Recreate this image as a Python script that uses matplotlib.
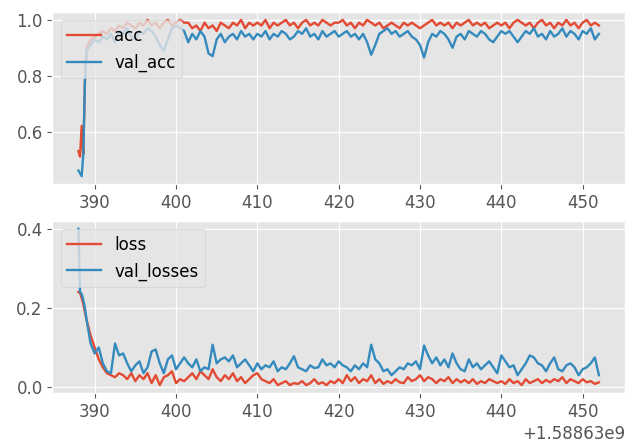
import matplotlib
matplotlib.use('Agg')
import matplotlib.pyplot as plt
import numpy as np

plt.style.use('ggplot')
plt.rcParams['xtick.labelsize'] = 12
plt.rcParams['ytick.labelsize'] = 12
plt.rcParams['legend.fontsize'] = 12

# epoch end times (seconds after 1588630000)
t_start = [388.0, 388.2, 388.4, 388.6, 388.8, 389.0]
t_rest = np.arange(389.5, 452.01, 0.5)
times = 1588630000 + np.concatenate([t_start, t_rest])

acc = [0.53, 0.51, 0.62, 0.52, 0.78, 0.90,
       0.93, 0.94, 0.95, 0.96, 0.95, 0.97, 0.96, 0.98, 0.97, 0.99, 0.98, 0.97,
       0.99, 0.98, 1.0, 0.98, 0.99, 0.97, 0.99, 1.0, 0.98, 0.99, 1.0, 0.99,
       0.99, 0.97, 0.98, 0.96, 0.99, 0.97, 0.98, 0.96, 0.99, 0.98, 0.97, 0.99,
       0.98, 1.0, 0.97, 0.99, 0.98,
       0.99, 0.98, 1.0, 0.97, 0.99, 0.98, 0.99, 1.0, 0.98, 0.99, 0.97, 0.99,
       1.0, 0.98, 0.99, 0.98, 1.0, 0.99, 0.98, 0.99,
       0.99, 1.0, 0.98, 0.99, 0.97, 0.99, 0.98, 1.0, 0.99, 0.98, 0.99, 0.97,
       0.98, 0.99, 0.98, 0.97, 0.99, 0.98, 0.99, 0.98,
       0.97, 0.98, 0.99, 1.0, 0.98, 0.99, 0.98, 0.99, 0.97, 0.99, 0.98, 0.99,
       1.0, 0.98, 0.99, 0.98, 0.99, 0.97, 0.98, 0.99,
       0.98, 0.99, 0.97, 0.99, 1.0, 0.99, 0.98, 0.99, 0.97, 0.99, 1.0, 0.98,
       0.99, 0.97, 0.99, 0.98, 1.0, 0.98, 0.99, 0.97,
       0.99, 1.0, 0.98, 0.99, 0.98]

val_acc = [0.46, 0.45, 0.44, 0.52, 0.78, 0.89,
           0.91, 0.93, 0.92, 0.94, 0.93, 0.95, 0.92, 0.96, 0.95, 0.97, 0.94, 0.93,
           0.96, 0.95, 0.97, 0.96, 0.94, 0.91, 0.89, 0.93, 0.97, 0.98, 0.97, 0.96,
           0.92, 0.95, 0.93, 0.96, 0.94, 0.88, 0.87, 0.93, 0.95, 0.92, 0.94, 0.95,
           0.93, 0.96, 0.94, 0.95, 0.93,
           0.95, 0.94, 0.96, 0.93, 0.95, 0.94, 0.96, 0.95, 0.93, 0.94, 0.96, 0.95,
           0.97, 0.94, 0.95, 0.93, 0.96, 0.94, 0.95, 0.96,
           0.94, 0.95, 0.96, 0.94, 0.95, 0.93, 0.95, 0.92, 0.875, 0.91, 0.95, 0.96,
           0.97, 0.95, 0.96, 0.94, 0.95, 0.96, 0.94, 0.93,
           0.91, 0.865, 0.92, 0.95, 0.94, 0.96, 0.95, 0.93, 0.90, 0.94, 0.95, 0.93,
           0.96, 0.95, 0.94, 0.96, 0.95, 0.93, 0.92, 0.94,
           0.96, 0.95, 0.96, 0.94, 0.92, 0.94, 0.96, 0.95, 0.97, 0.94, 0.95, 0.93,
           0.96, 0.94, 0.95, 0.97, 0.94, 0.96, 0.95, 0.93,
           0.96, 0.95, 0.97, 0.93, 0.95]

loss = [0.24, 0.238, 0.225, 0.21, 0.19, 0.17,
        0.13, 0.10, 0.07, 0.05, 0.035, 0.03, 0.025, 0.035, 0.03, 0.02, 0.035, 0.015,
        0.03, 0.02, 0.035, 0.01, 0.03, 0.005, 0.025, 0.03, 0.04, 0.01, 0.02, 0.015,
        0.025, 0.035, 0.02, 0.04, 0.03, 0.02, 0.045, 0.025, 0.015, 0.03, 0.02, 0.035,
        0.015, 0.025, 0.01, 0.02, 0.03,
        0.035, 0.02, 0.015, 0.01, 0.02, 0.005, 0.01, 0.015, 0.005, 0.01, 0.008, 0.015,
        0.005, 0.01, 0.02, 0.008, 0.012, 0.005, 0.015, 0.01,
        0.02, 0.01, 0.03, 0.015, 0.025, 0.01, 0.02, 0.015, 0.03, 0.01, 0.02, 0.008,
        0.015, 0.01, 0.02, 0.012, 0.01, 0.025, 0.015, 0.02,
        0.03, 0.015, 0.025, 0.02, 0.01, 0.02, 0.015, 0.025, 0.01, 0.02, 0.012, 0.018,
        0.01, 0.02, 0.008, 0.015, 0.01, 0.02, 0.015, 0.01,
        0.015, 0.008, 0.02, 0.01, 0.015, 0.005, 0.02, 0.01, 0.015, 0.02, 0.01, 0.018,
        0.012, 0.02, 0.015, 0.025, 0.01, 0.02, 0.015, 0.01,
        0.02, 0.012, 0.015, 0.008, 0.012]

val_losses = [0.40, 0.24, 0.235, 0.22, 0.20, 0.17,
              0.11, 0.085, 0.10, 0.06, 0.04, 0.035, 0.11, 0.08, 0.085, 0.06, 0.04, 0.055,
              0.065, 0.035, 0.05, 0.09, 0.095, 0.06, 0.035, 0.07, 0.08, 0.045, 0.06, 0.075,
              0.06, 0.05, 0.07, 0.04, 0.05, 0.045, 0.107, 0.06, 0.07, 0.075, 0.065, 0.08,
              0.05, 0.06, 0.07, 0.055, 0.04,
              0.06, 0.045, 0.055, 0.05, 0.065, 0.04, 0.05, 0.045, 0.06, 0.078, 0.05, 0.045,
              0.04, 0.055, 0.048, 0.05, 0.07, 0.055, 0.06, 0.05,
              0.065, 0.055, 0.05, 0.04, 0.055, 0.045, 0.06, 0.05, 0.107, 0.07, 0.06, 0.04,
              0.045, 0.03, 0.04, 0.05, 0.045, 0.06, 0.055, 0.065,
              0.045, 0.105, 0.08, 0.06, 0.075, 0.055, 0.07, 0.05, 0.085, 0.06, 0.045, 0.04,
              0.07, 0.05, 0.06, 0.045, 0.055, 0.065, 0.05, 0.035,
              0.08, 0.065, 0.05, 0.055, 0.03, 0.045, 0.06, 0.08, 0.075, 0.06, 0.055, 0.04,
              0.06, 0.075, 0.045, 0.04, 0.055, 0.06, 0.05, 0.03,
              0.045, 0.05, 0.06, 0.075, 0.03]

fig, (ax1, ax2) = plt.subplots(2, 1, figsize=(6.39, 4.47), dpi=100)
plt.subplots_adjust(left=0.082, right=0.978, top=0.973, bottom=0.121, hspace=0.215)

ax1.plot(times, acc, label='acc', linewidth=1.7)
ax1.plot(times, val_acc, label='val_acc', linewidth=1.7)
ax1.legend(loc='upper left')
ax1.xaxis.get_offset_text().set_visible(False)

ax2.plot(times, loss, label='loss', linewidth=1.7)
ax2.plot(times, val_losses, label='val_losses', linewidth=1.7)
ax2.set_yticks([0.0, 0.2, 0.4])
ax2.legend(loc='upper left')

plt.savefig('out.png')
